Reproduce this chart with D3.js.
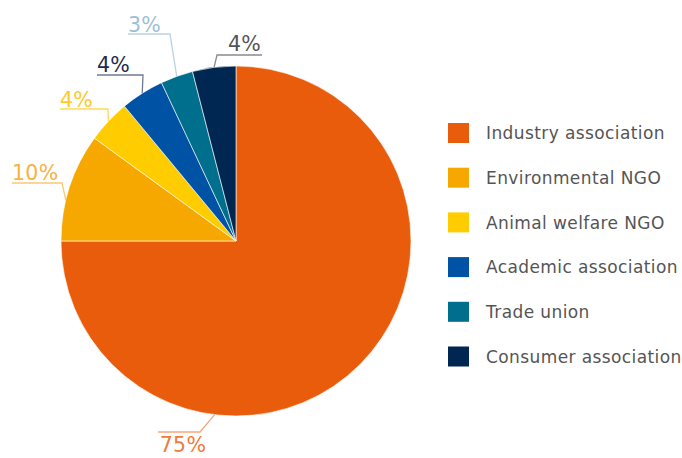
<!DOCTYPE html>
<html>
<head>
<meta charset="utf-8">
<script src="https://cdn.jsdelivr.net/npm/d3@7"></script>
<style>
  body { margin: 0; background: #fff; }
  svg { display: block; font-family: "DejaVu Sans", Verdana, sans-serif; }
</style>
</head>
<body>
<div class="chart"></div>
<script>
// data
var categories = ["Industry association", "Environmental NGO", "Animal welfare NGO",
                  "Academic association", "Trade union", "Consumer association"];
var shares = [75, 10, 4, 4, 3, 4];
var sliceColors = ["#e95c0c", "#f6a800", "#ffcc00", "#0052a4", "#006f8e", "#002652"];
var labelColors = ["#ef7b3a", "#f7b23f", "#ffc926", "#1d2b4f", "#9cbfd6", "#555555"];
var lineColors  = ["#f5a87c", "#f9c873", "#ffd95a", "#6f7b94", "#b9d3e4", "#8a8a8a"];

var svgWidth = 682, svgHeight = 458;
var cx = 236, cy = 241, radius = 175;

// label layout: anchor angle override (deg, null = mid angle), elbow point, line end x
var labelLayout = [
  { angle: 187, ex: 200, ey: 432, endX: 158, tx: 183, ty: 452, anchor: "middle" },
  { angle: 283.5, ex: 62, ey: 183, endX: 12, tx: 12, ty: 180, anchor: "start" },
  { angle: null, ex: 108, ey: 109, endX: 60, tx: 60, ty: 107, anchor: "start" },
  { angle: null, ex: 143, ey: 75, endX: 97, tx: 97, ty: 72, anchor: "start" },
  { angle: null, ex: 170, ey: 34, endX: 128, tx: 128, ty: 32, anchor: "start" },
  { angle: null, ex: 217, ey: 55, endX: 262, tx: 228, ty: 51, anchor: "start" }
];

var data = categories.map(function(c, i) {
    return { name: c, value: shares[i], color: sliceColors[i] };
});

var svg = d3.select(".chart")
    .append("svg")
    .attr("width", svgWidth)
    .attr("height", svgHeight);

var pie = d3.pie()
    .value(d => d.value)
    .sort(null);

var arc = d3.arc()
    .innerRadius(0)
    .outerRadius(radius);

var arcs = pie(data);

var pieGroup = svg.append("g")
    .attr("transform", `translate(${cx}, ${cy})`);

pieGroup.selectAll("path")
    .data(arcs)
    .enter()
    .append("path")
    .attr("d", arc)
    .attr("fill", d => d.data.color)
    .attr("stroke", "#ffffff")
    .attr("stroke-width", 0.6);

// leader lines + labels
arcs.forEach(function(a, i) {
    var lay = labelLayout[i];
    var ang = lay.angle !== null ? lay.angle * Math.PI / 180 : (a.startAngle + a.endAngle) / 2;
    var px = cx + radius * Math.sin(ang);
    var py = cy - radius * Math.cos(ang);

    svg.append("polyline")
        .attr("points", `${px},${py} ${lay.ex},${lay.ey} ${lay.endX},${lay.ey}`)
        .attr("fill", "none")
        .attr("stroke", lineColors[i])
        .attr("stroke-width", 1.3);

    svg.append("text")
        .attr("x", lay.tx)
        .attr("y", lay.ty)
        .attr("text-anchor", lay.anchor)
        .attr("fill", labelColors[i])
        .style("font-size", "20.5px")
        .style("letter-spacing", "0.3px")
        .text(a.data.value + "%");
});

// legend
var legend = svg.append("g")
    .attr("transform", "translate(448, 123)");

var legendItems = legend.selectAll("g")
    .data(data)
    .enter()
    .append("g")
    .attr("transform", (d, i) => `translate(0, ${i * 44.7})`);

legendItems.append("rect")
    .attr("width", 21)
    .attr("height", 20)
    .attr("fill", d => d.color);

legendItems.append("text")
    .attr("x", 38)
    .attr("y", 10)
    .attr("dy", "0.36em")
    .attr("fill", "#555555")
    .style("font-size", "17px")
    .style("letter-spacing", "0.4px")
    .text(d => d.name);
</script>
</body>
</html>
